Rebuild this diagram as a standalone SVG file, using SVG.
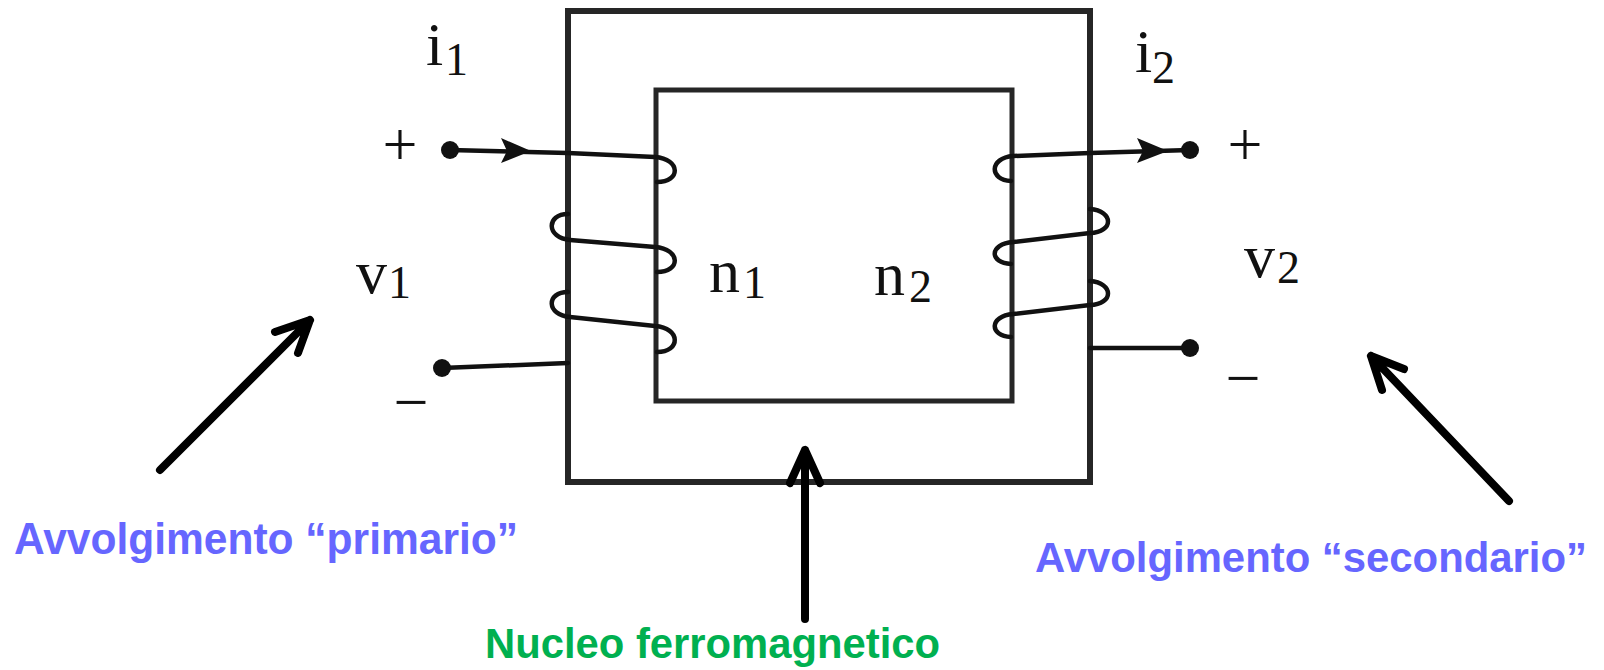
<svg xmlns="http://www.w3.org/2000/svg" width="1604" height="670" viewBox="0 0 1604 670">
<style>
.core{fill:none;stroke:#262626}
.wire{fill:none;stroke:#111;stroke-width:4.5;stroke-linecap:round}
.dot{fill:#111}
.sym{font-family:"Liberation Serif","Times New Roman",serif;fill:#111}
.big{font-size:62px}
.sub{font-size:46px}
.lbl{font-family:"Liberation Sans",Arial,sans-serif;font-weight:bold}
.blue{fill:#6666FF}
.green{fill:#00B050;font-size:42px}
.pointer{fill:none;stroke:#000;stroke-width:8;stroke-linecap:round;stroke-linejoin:round}
</style>
<rect width="1604" height="670" fill="#fff"/>
<g id="core">
<rect class="core" x="568" y="11" width="522" height="471" stroke-width="6"/>
<rect class="core" x="656" y="90" width="356" height="311" stroke-width="5"/>
</g>
<g id="primary-winding">
<path class="wire" d="M450,150 L568,153 L655,157 C681,159 681,182 657,182"/>
<path class="wire" d="M568,214 C546,214 546,238 570,240 L655,247 C681,249 681,272 657,272"/>
<path class="wire" d="M568,292 C546,292 546,315 570,317 L655,326 C681,328 681,352 657,352"/>
<path class="wire" d="M442,368 L568,363"/>
<circle class="dot" cx="450" cy="150" r="9"/>
<circle class="dot" cx="442" cy="368" r="9"/>
<path class="dot" d="M501,138 L531,151 L501,163 L507,151 Z"/>
</g>
<g id="secondary-winding">
<path class="wire" d="M1190,150 L1090,153 L1013,156 C989,158 989,180 1011,181"/>
<path class="wire" d="M1090,209 C1114,211 1114,232 1090,233 L1013,242 C989,244 989,263 1011,264"/>
<path class="wire" d="M1090,281 C1114,283 1114,304 1090,305 L1013,314 C989,316 989,336 1011,337"/>
<path class="wire" d="M1090,348 L1190,348"/>
<circle class="dot" cx="1190" cy="150" r="9"/>
<circle class="dot" cx="1190" cy="348" r="9"/>
<path class="dot" d="M1137,138 L1168,151 L1137,163 L1143,151 Z"/>
</g>
<g id="labels-primary">
<text class="sym big" x="426" y="65">i</text><text class="sym sub" x="445" y="75">1</text>
<text class="sym big" x="400" y="165" text-anchor="middle">+</text>
<text class="sym big" x="356" y="293">v</text><text class="sym sub" x="388" y="298">1</text>
<text class="sym big" x="411" y="423" text-anchor="middle">−</text>
<text class="sym big" x="709" y="292">n</text><text class="sym sub" x="743" y="298">1</text>
</g>
<g id="labels-secondary">
<text class="sym big" x="1135" y="72">i</text><text class="sym sub" x="1152" y="83">2</text>
<text class="sym big" x="1245" y="165" text-anchor="middle">+</text>
<text class="sym big" x="1244" y="277">v</text><text class="sym sub" x="1277" y="283">2</text>
<text class="sym big" x="1243" y="399" text-anchor="middle">−</text>
<text class="sym big" x="874" y="295">n</text><text class="sym sub" x="909" y="302">2</text>
</g>
<g id="connectors">
<path class="pointer" d="M160,470 L310,320 M275,332 L310,320 L298,353"/>
<path class="pointer" d="M1509,501 L1371,356 M1404,369 L1371,356 L1382,390"/>
<path class="pointer" d="M805,619 L805,450 M820,483 L805,450 L790,483"/>
</g>
<g id="text-primary">
<text class="lbl blue" x="14" y="554" font-size="45" textLength="504" lengthAdjust="spacingAndGlyphs">Avvolgimento “primario”</text>
</g>
<g id="text-secondary">
<text class="lbl blue" x="1035" y="572" font-size="42" textLength="552" lengthAdjust="spacingAndGlyphs">Avvolgimento “secondario”</text>
</g>
<g id="text-core">
<text class="lbl green" x="485" y="658" textLength="455" lengthAdjust="spacingAndGlyphs">Nucleo ferromagnetico</text>
</g>
</svg>
